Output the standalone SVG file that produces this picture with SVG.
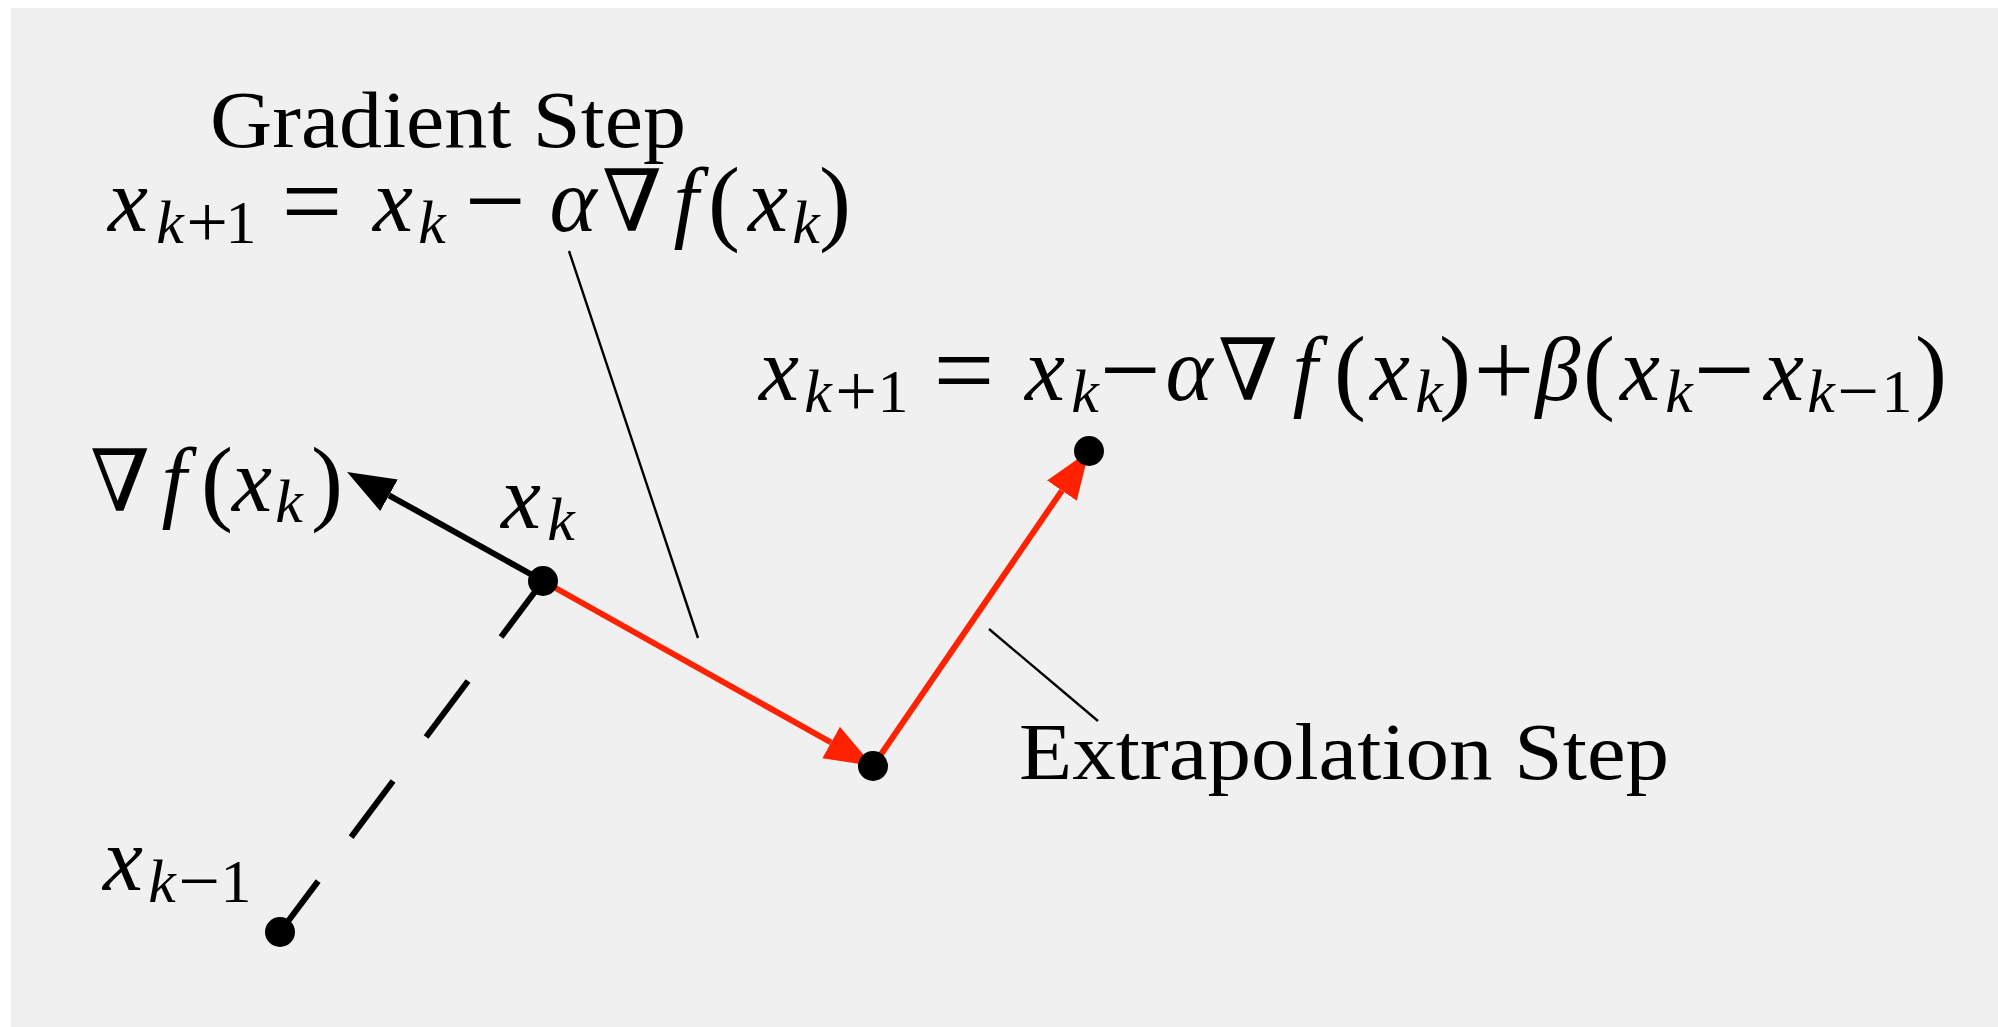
<svg xmlns="http://www.w3.org/2000/svg" width="1998" height="1027" viewBox="0 0 1998 1027">
<defs>
<style>
.t{font-family:'Liberation Serif','DejaVu Serif',serif;fill:#000}
.lbl{font-size:80px}
.m{font-size:90px;font-style:italic}
.r{font-size:86px;font-style:normal}
.op{font-size:108px;font-style:normal}
.p{font-size:96px;font-style:normal}
.s{font-size:62px;font-style:italic}
.sr{font-size:62px;font-style:normal}
.sop{font-size:74px;font-style:normal}
.lead{stroke:#000;stroke-width:2.4;fill:none}
.shaft{stroke-width:6;fill:none;stroke-linecap:butt}
.dot{fill:#000}
</style>
<marker id="hb" markerUnits="userSpaceOnUse" markerWidth="50" markerHeight="40" viewBox="0 -20 50 40" refX="0" refY="0" orient="auto">
<path d="M0,-18 L48,0 L0,18 Z" fill="#000"/>
</marker>
<marker id="hr" markerUnits="userSpaceOnUse" markerWidth="50" markerHeight="40" viewBox="0 -20 50 40" refX="0" refY="0" orient="auto">
<path d="M0,-18 L48,0 L0,18 Z" fill="#ff2200"/>
</marker>
</defs>
<rect x="11" y="8" width="1987" height="1019" fill="#f0f0f0"/>

<g id="connectors">
<line class="shaft" x1="543" y1="581" x2="280" y2="932" stroke="#000" stroke-dasharray="70 55"/>
<line class="shaft" x1="543" y1="581" x2="389" y2="495.3" stroke="#000" marker-end="url(#hb)"/>
<line class="shaft" x1="543" y1="581" x2="831.1" y2="742.5" stroke="#ff2200" marker-end="url(#hr)"/>
<line class="shaft" x1="873" y1="766" x2="1061.9" y2="490.6" stroke="#ff2200" marker-end="url(#hr)"/>
<line class="lead" x1="569" y1="251" x2="698" y2="638"/>
<line class="lead" x1="989" y1="629" x2="1098" y2="721"/>
</g>

<g id="node-xkm1">
<circle class="dot" cx="280" cy="932" r="15"/>
<text class="t" text-anchor="middle"><tspan class="m" x="123" y="890">x</tspan><tspan class="s" x="162" y="902">k</tspan><tspan class="sop" x="199" y="906">−</tspan><tspan class="sr" x="236" y="902">1</tspan></text>
</g>

<g id="node-xk">
<circle class="dot" cx="543" cy="581" r="15"/>
<text class="t" text-anchor="middle"><tspan class="m" x="521" y="528">x</tspan><tspan class="s" x="561" y="540">k</tspan></text>
</g>

<g id="node-grad">
<text class="t" text-anchor="middle"><tspan class="r" x="120" y="511">∇</tspan><tspan class="m" x="174" y="511">f</tspan><tspan class="p" x="217" y="513">(</tspan><tspan class="m" x="252" y="511">x</tspan><tspan class="s" x="289" y="522">k</tspan><tspan class="p" x="327" y="513">)</tspan></text>
</g>

<g id="node-mid">
<circle class="dot" cx="873" cy="766" r="15"/>
</g>

<g id="node-next">
<circle class="dot" cx="1089" cy="451" r="15"/>
<text class="t" text-anchor="middle"><tspan class="m" x="779" y="400">x</tspan><tspan class="s" x="818" y="412">k</tspan><tspan class="sop" x="856" y="416">+</tspan><tspan class="sr" x="893" y="412">1</tspan><tspan class="op" x="964" y="406">=</tspan><tspan class="m" x="1045" y="400">x</tspan><tspan class="s" x="1085" y="412">k</tspan><tspan class="op" x="1130" y="406">−</tspan><tspan class="m" x="1189" y="400">α</tspan><tspan class="r" x="1248" y="400">∇</tspan><tspan class="m" x="1305" y="400">f</tspan><tspan class="p" x="1350" y="402">(</tspan><tspan class="m" x="1390" y="400">x</tspan><tspan class="s" x="1429" y="412">k</tspan><tspan class="p" x="1455" y="402">)</tspan><tspan class="op" x="1504" y="406">+</tspan><tspan class="m" x="1558" y="400">β</tspan><tspan class="p" x="1599" y="402">(</tspan><tspan class="m" x="1640" y="400">x</tspan><tspan class="s" x="1679" y="412">k</tspan><tspan class="op" x="1724" y="406">−</tspan><tspan class="m" x="1784" y="400">x</tspan><tspan class="s" x="1821" y="412">k</tspan><tspan class="sop" x="1858" y="416">−</tspan><tspan class="sr" x="1897" y="412">1</tspan><tspan class="p" x="1931" y="402">)</tspan></text>
</g>

<g id="label-gradient">
<text class="t lbl" x="210" y="147" textLength="476" lengthAdjust="spacingAndGlyphs">Gradient Step</text>
<text class="t" text-anchor="middle"><tspan class="m" x="128" y="231">x</tspan><tspan class="s" x="170" y="243">k</tspan><tspan class="sop" x="207" y="247">+</tspan><tspan class="sr" x="241" y="243">1</tspan><tspan class="op" x="312" y="237">=</tspan><tspan class="m" x="393" y="231">x</tspan><tspan class="s" x="432" y="243">k</tspan><tspan class="op" x="495" y="237">−</tspan><tspan class="m" x="573" y="231">α</tspan><tspan class="r" x="632" y="231">∇</tspan><tspan class="m" x="686" y="231">f</tspan><tspan class="p" x="724" y="233">(</tspan><tspan class="m" x="768" y="231">x</tspan><tspan class="s" x="806" y="243">k</tspan><tspan class="p" x="835" y="233">)</tspan></text>
</g>

<g id="label-extrapolation">
<text class="t lbl" x="1019" y="779" textLength="650" lengthAdjust="spacingAndGlyphs">Extrapolation Step</text>
</g>
</svg>
